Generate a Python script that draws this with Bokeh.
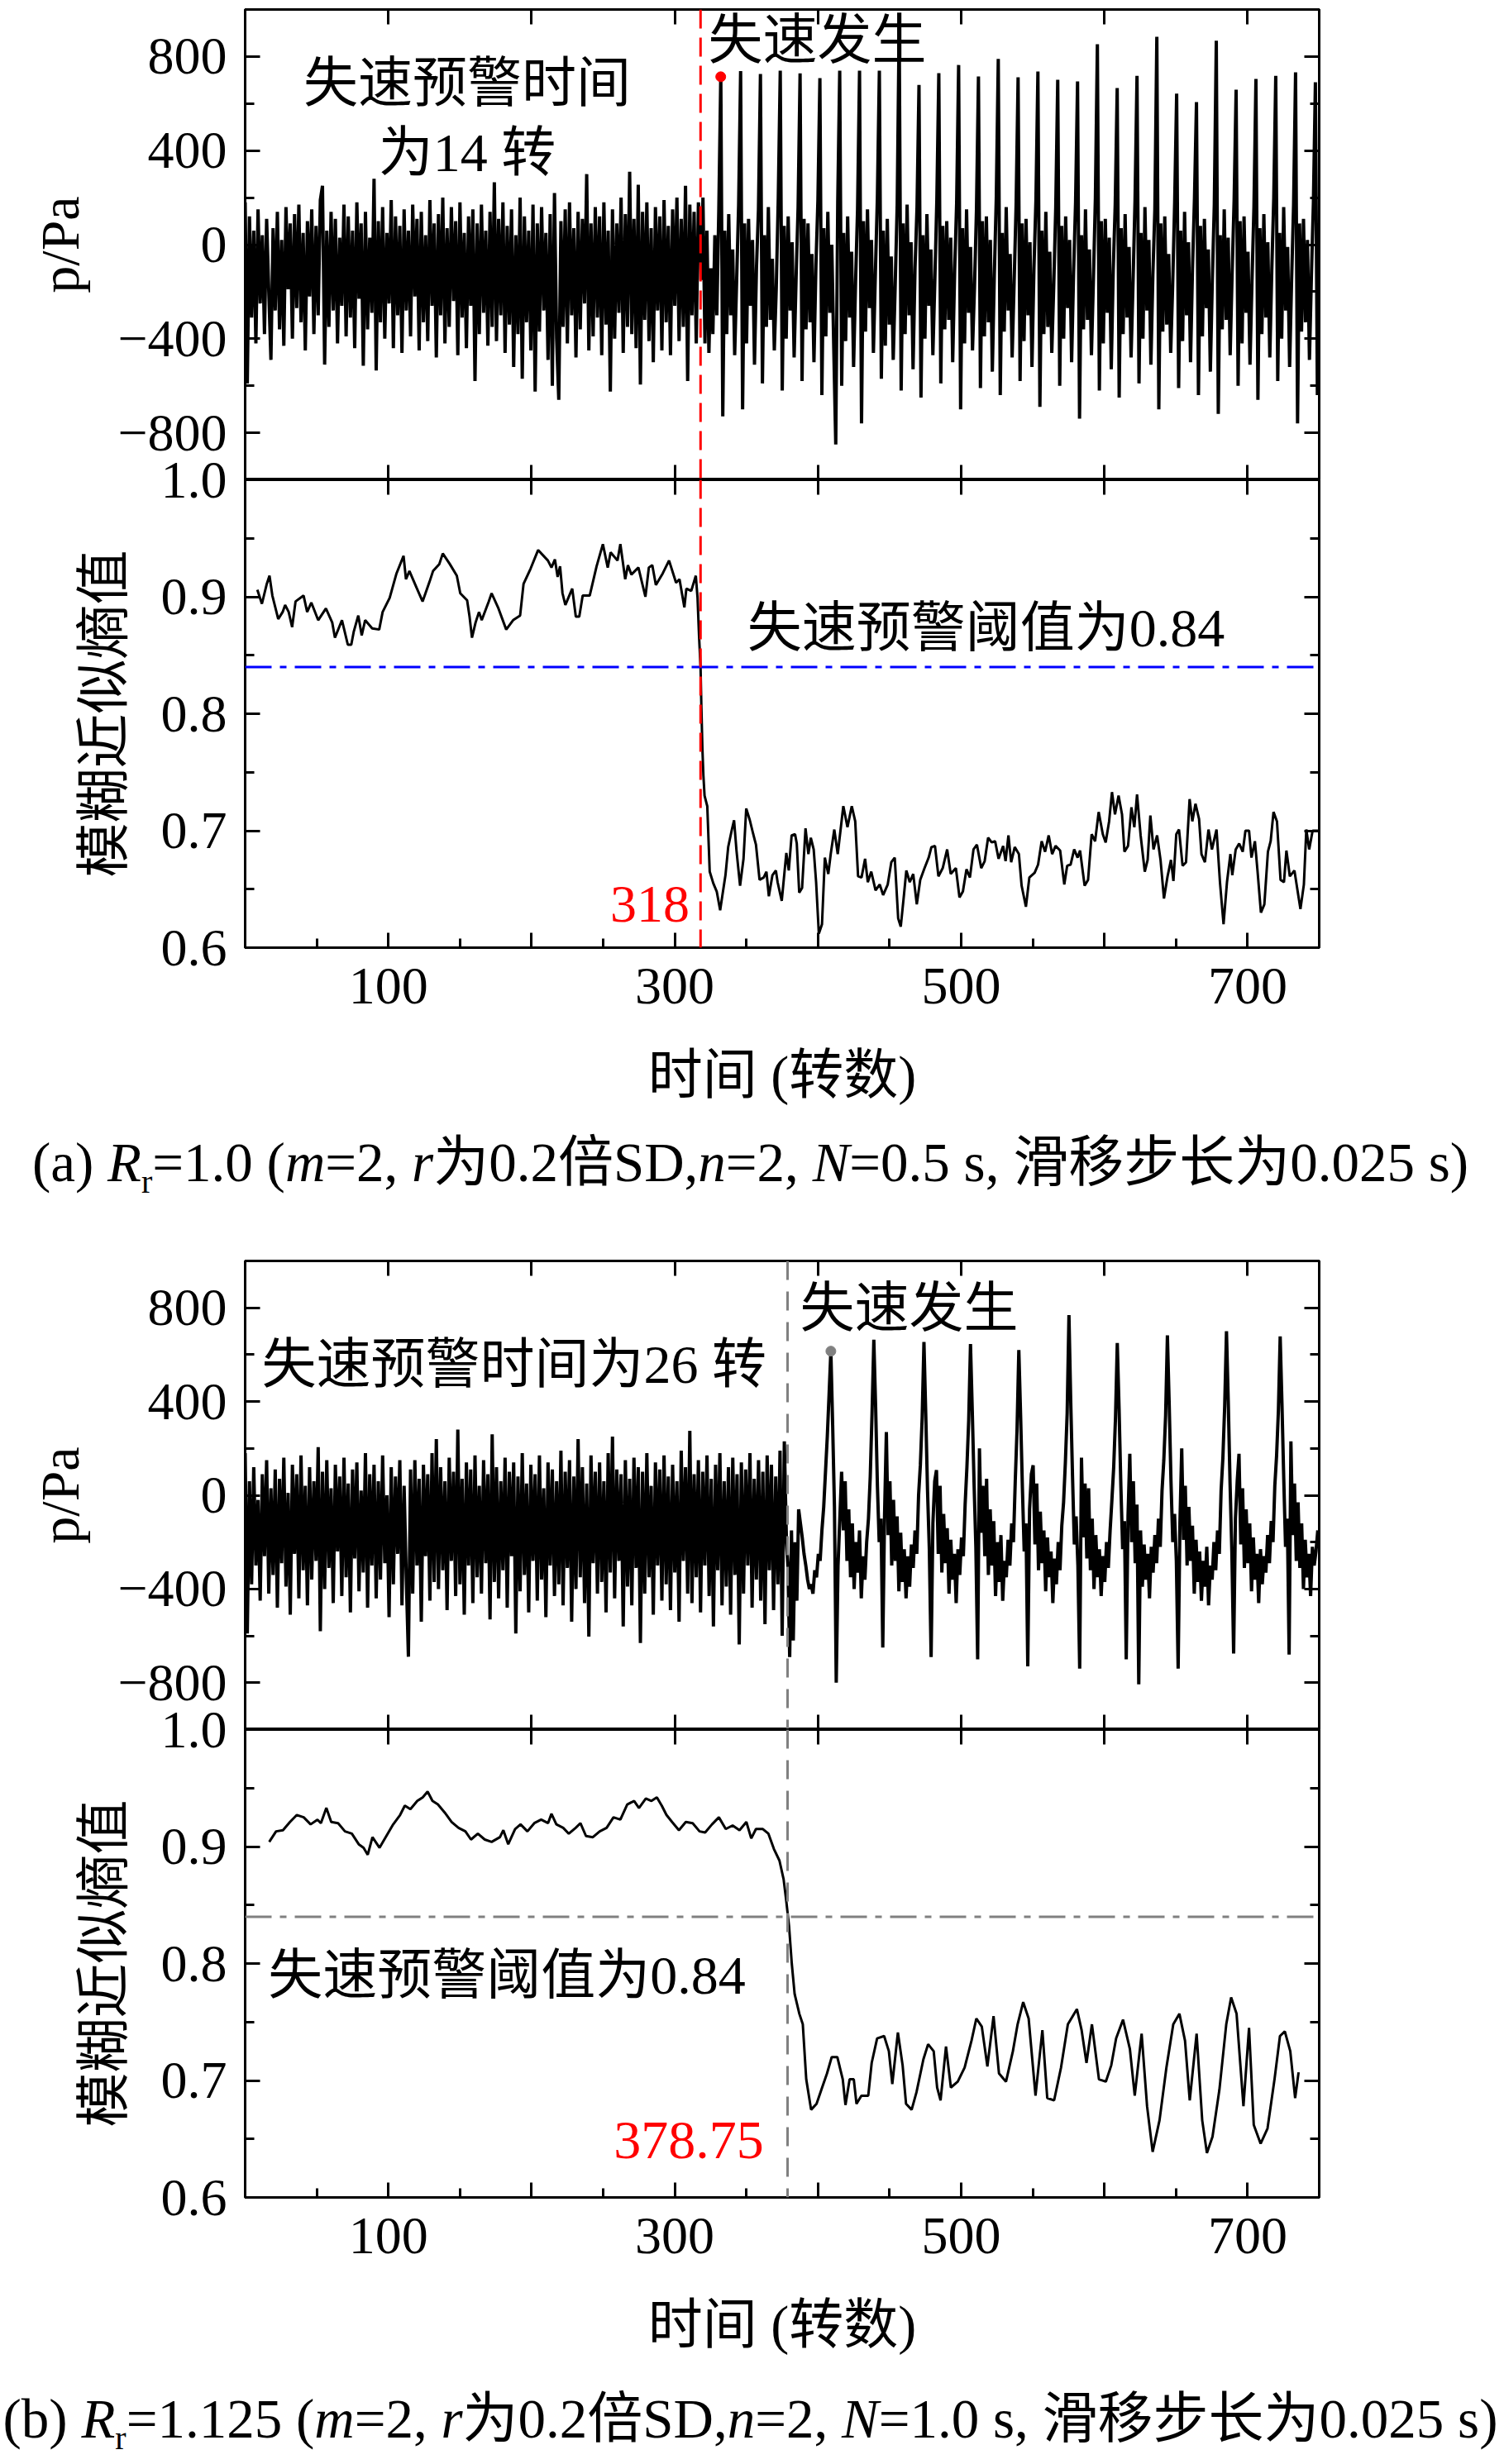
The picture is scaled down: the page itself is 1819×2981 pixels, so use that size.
import numpy as np
from bokeh.plotting import figure
from bokeh.models import (ColumnDataSource, Range1d, LinearAxis, FixedTicker, Span,
                          Label, Div, CustomJSTickFormatter)
from bokeh.layouts import column
from bokeh.embed import file_html
from bokeh.resources import INLINE

FONT = "Liberation Serif, Noto Sans CJK SC"

# ---------------- data (a) R_r = 1.0 ----------------
# pressure before stall, one sample every 1.5 revolutions from 0 to 318
DT_A_PRE = 1.5
p_a_pre = [
    180, -590, 120, -310, 60, -420, 150, -250, 40, -380, 110, -200, -490, 70, -280,
    140, -360, 20, -430, 160, -190, 90, -400, 130, -270, 170, -330, 50, -450, 100,
    -220, 150, -380, 80, -300, 190, 250, -510, 60, -350, 140, -280, 110, -420, 30,
    -260, 170, -390, 120, -310, 60, -440, 180, -230, 90, -515, 140, -360, 30, -290,
    280, -535, 100, -330, 160, -400, 50, -250, 190, -440, 120, -300, 80, -460, 150,
    -280, 60, -390, 170, -220, 110, -450, 140, -330, 40, -410, 190, -260, 90, -480,
    130, -300, 200, -420, 70, -350, 160, -240, 100, -470, 180, -310, 50, -440, 120,
    -260, 150, -580, 90, -380, 170, -290, 60, -430, 140, -350, 265, -410, 110, -300,
    180, -460, 80, -340, 150, -520, 40, -380, 200, -570, 120, -330, 60, -450, 170,
    -625, 90, -370, 160, -280, 50, -490, 130, -600, 220, -400, -660, 100, -350, 150,
    -420, 180, -300, 70, -480, 140, -360, 110, -250, 300, -450, 90, -390, 160, -310,
    120, -470, 180, -340, 60, -625, 150, -400, 90, -290, 200, -460, 130, -350, 310,
    -380, 110, -440, 255, -595, 140, -320, 180, -410, 70, -500, 160, -280, 120, -450,
    190, -330, 80, -470, 150, -260, 200, -410, 110, -350, 250, -580, 170, -300, 140,
    -420, 180, 60,
]
# pressure after stall, from 318.3 revolutions, one sample every 1.384 revolutions
T_A_POST0 = 318.3
DT_A_POST = 1.384
p_a_post = [
    -150, 200, -420, 60, -460, -100, -380, 40, -300, 150,
    725, -730, 60, -380, 130, -300, -20, -470, -150, 170,
    738, -700, 90, -420, 110, -260, 20, -510, -100, 150,
    726, -590, 40, -350, 160, -320, -60, -450, -180, 200,
    740, -620, 80, -400, 120, -280, 10, -480, -140, 160,
    728, -580, 110, -360, 90, -330, -40, -500, -90, 190,
    708, -640, 70, -390, 140, -290, 0, -440, -850, 180,
    740, -600, 50, -410, 120, -310, -30, -520, -160, 150,
    740, -760, 100, -370, 150, -270, 20, -460, -120, 200,
    740, -570, 60, -430, 110, -340, -50, -490, -170, 170,
    940, -620, 90, -380, 170, -300, 10, -530, -100, 160,
    679, -650, 40, -400, 130, -260, -20, -470, -150, 190,
    729, -590, 80, -360, 100, -320, 30, -500, -110, 180,
    764, -700, 70, -420, 150, -290, -10, -450, -180, 150,
    715, -610, 100, -390, 120, -330, 20, -540, -130, 200,
    790, -640, 50, -370, 160, -280, -40, -480, -160, 170,
    712, -580, 90, -410, 110, -300, 10, -520, -100, 190,
    736, -690, 60, -380, 140, -350, -30, -460, -170, 160,
    701, -600, 80, -400, 120, -270, 20, -500, -120, 180,
    694, -740, 40, -360, 150, -320, -20, -470, -150, 200,
    852, -620, 100, -420, 110, -290, 30, -530, -110, 170,
    666, -650, 70, -380, 130, -310, -10, -480, -160, 190,
    718, -590, 50, -400, 160, -280, 20, -510, -130, 150,
    884, -700, 90, -370, 120, -340, -40, -460, -170, 180,
    642, -610, 60, -410, 140, -300, 10, -500, -100, 200,
    606, -640, 80, -390, 110, -270, -20, -540, -150, 170,
    867, -720, 40, -360, 150, -320, 30, -470, -120, 190,
    659, -600, 100, -420, 120, -290, -30, -510, -160, 160,
    705, -660, 70, -380, 130, -310, 10, -480, -110, 200,
    718, -580, 50, -400, 160, -280, -10, -520, -150, 170,
    733, -760, 90, -370, 110, -330, 20, -490, -130, 180,
    691, -640, 60,
]
# fuzzy approximate entropy
ent_a_t = [8.5, 11.7, 15.1, 17.0, 19.0, 23.1, 26.2, 27.9, 30.4, 32.8,
           35.2, 40.8, 43.3, 46.2, 51.0, 56.4, 60.8, 62.7, 67.6, 71.7,
           74.1, 75.8, 79.0, 81.4, 83.8, 88.7, 93.6, 96.0, 100.9, 105.7,
           110.6, 112.3, 114.7, 119.6, 123.9, 128.8, 131.2, 135.6, 138.0, 142.9,
           147.8, 150.2, 155.0, 156.7, 158.4, 160.9, 163.3, 165.2, 170.1, 172.1,
           176.9, 182.3, 187.1, 192.0, 194.4, 199.3, 204.6, 211.4, 213.9, 216.3,
           218.2, 219.9, 221.6, 223.6, 228.4, 230.9, 233.3, 235.7, 240.6, 245.4,
           249.8, 253.2, 255.2, 260.0, 262.0, 265.4, 267.3, 269.7, 274.6, 279.5,
           281.9, 284.3, 286.8, 291.6, 296.0, 300.9, 303.3, 306.7, 308.1, 311.5,
           314.7, 315.9, 317.0, 318.0, 318.6, 319.3, 320.0, 320.8, 322.7, 324.4,
           326.9, 329.3, 331.7, 333.4, 335.4, 337.3, 339.7, 341.4, 343.1, 345.6,
           348.0, 349.9, 352.4, 354.8, 356.7, 359.2, 362.1, 364.0, 365.7, 368.2,
           370.6, 371.8, 374.7, 377.9, 379.6, 381.6, 384.0, 385.2, 386.9, 388.9,
           391.3, 393.3, 395.0, 397.0, 398.7, 400.6, 402.8, 404.8, 407.2, 408.9,
           411.4, 413.8, 417.7, 420.6, 423.6, 426.0, 428.0, 430.4, 432.9, 434.8,
           437.2, 440.2, 443.1, 445.5, 448.7, 451.2, 453.6, 456.0, 457.8, 460.2,
           461.7, 464.1, 466.5, 469.0, 471.4, 474.4, 477.3, 479.2, 481.7, 484.1,
           487.1, 490.2, 492.7, 496.3, 498.8, 501.2, 503.7, 506.1, 508.6, 511.0,
           514.0, 516.4, 518.8, 521.3, 523.7, 526.1, 529.3, 531.0, 533.0, 534.9,
           537.4, 540.3, 542.2, 545.2, 547.6, 551.3, 553.7, 556.2, 558.6, 561.1,
           563.5, 565.9, 569.1, 572.0, 574.0, 576.4, 578.9, 581.3, 583.0, 586.2,
           588.6, 591.1, 593.5, 596.0, 598.9, 600.9, 603.3, 605.3, 607.4, 609.9,
           612.3, 614.0, 616.5, 618.9, 620.9, 622.8, 625.3, 628.2, 630.2, 632.1,
           634.3, 636.8, 639.2, 641.6, 644.1, 646.5, 648.2, 650.2, 652.1, 654.6,
           657.0, 659.5, 661.4, 663.6, 666.1, 667.8, 670.2, 672.7, 675.1, 678.3,
           680.7, 683.2, 685.6, 688.0, 689.3, 691.7, 694.1, 696.6, 698.5, 701.0,
           702.7, 705.1, 706.9, 709.3, 711.7, 714.2, 716.1, 718.1, 720.5, 723.0,
           725.4, 727.1, 729.5, 732.7, 735.1, 736.9, 739.3, 741.0, 743.0, 745.4,
           749.1]
ent_a_v = [0.906, 0.894, 0.911, 0.918, 0.901, 0.881, 0.887, 0.893, 0.887, 0.874,
           0.896, 0.901, 0.887, 0.895, 0.880, 0.890, 0.878, 0.865, 0.880, 0.859,
           0.859, 0.870, 0.884, 0.867, 0.880, 0.873, 0.872, 0.887, 0.899, 0.920,
           0.935, 0.915, 0.922, 0.908, 0.896, 0.913, 0.922, 0.928, 0.937, 0.928,
           0.918, 0.903, 0.897, 0.883, 0.865, 0.878, 0.887, 0.880, 0.896, 0.903,
           0.890, 0.872, 0.880, 0.884, 0.911, 0.924, 0.940, 0.931, 0.925, 0.932,
           0.917, 0.926, 0.903, 0.893, 0.907, 0.883, 0.883, 0.901, 0.901, 0.926,
           0.945, 0.925, 0.938, 0.931, 0.945, 0.915, 0.927, 0.919, 0.925, 0.900,
           0.925, 0.927, 0.910, 0.920, 0.931, 0.912, 0.915, 0.891, 0.907, 0.905,
           0.918, 0.899, 0.865, 0.840, 0.805, 0.770, 0.747, 0.730, 0.721, 0.665,
           0.655, 0.648, 0.632, 0.646, 0.662, 0.686, 0.700, 0.709, 0.683, 0.653,
           0.676, 0.719, 0.709, 0.697, 0.688, 0.658, 0.660, 0.665, 0.644, 0.662,
           0.666, 0.656, 0.640, 0.681, 0.666, 0.696, 0.697, 0.689, 0.647, 0.651,
           0.702, 0.680, 0.694, 0.684, 0.656, 0.612, 0.620, 0.677, 0.663, 0.680,
           0.701, 0.680, 0.721, 0.703, 0.721, 0.708, 0.661, 0.660, 0.676, 0.656,
           0.665, 0.649, 0.654, 0.645, 0.654, 0.673, 0.677, 0.625, 0.618, 0.647,
           0.666, 0.656, 0.663, 0.637, 0.658, 0.668, 0.677, 0.686, 0.687, 0.661,
           0.668, 0.684, 0.663, 0.668, 0.643, 0.648, 0.667, 0.660, 0.684, 0.688,
           0.668, 0.674, 0.694, 0.690, 0.691, 0.676, 0.687, 0.674, 0.696, 0.673,
           0.686, 0.680, 0.653, 0.635, 0.660, 0.664, 0.671, 0.691, 0.682, 0.696,
           0.680, 0.687, 0.683, 0.654, 0.670, 0.671, 0.684, 0.677, 0.683, 0.653,
           0.658, 0.697, 0.691, 0.716, 0.697, 0.690, 0.708, 0.733, 0.714, 0.730,
           0.714, 0.682, 0.687, 0.720, 0.703, 0.731, 0.696, 0.665, 0.675, 0.713,
           0.684, 0.696, 0.675, 0.642, 0.661, 0.675, 0.657, 0.697, 0.701, 0.670,
           0.673, 0.727, 0.708, 0.723, 0.710, 0.680, 0.673, 0.701, 0.684, 0.701,
           0.656, 0.620, 0.656, 0.680, 0.662, 0.684, 0.689, 0.682, 0.700, 0.700,
           0.677, 0.691, 0.666, 0.630, 0.637, 0.682, 0.691, 0.716, 0.708, 0.658,
           0.656, 0.683, 0.661, 0.666, 0.647, 0.633, 0.654, 0.701, 0.684, 0.700,
           0.700]
stall_a_x = [332.1]
stall_a_y = [714]
warn_a = 318
threshold = 0.84

# ---------------- data (b) R_r = 1.125 ----------------
DT_B_PRE = 1.5
p_b_pre = [
    180, -590, 60, -380, 120, -300, -20, -450, 90, -260, 150, -420, 30, -340, 110,
    -480, 70, -290, 160, -390, 10, -510, 130, -250, 90, -440, 170, -320, 40, -470,
    120, -360, 60, -280, 205, -580, 100, -400, 150, -310, 30, -460, 130, -240, 80,
    -430, 160, -350, 50, -500, 110, -270, 140, -410, 20, -330, 180, -480, 90, -300,
    130, -440, 60, -360, 170, -290, 0, -520, 120, -380, 80, -250, 150, -470, 40,
    -350, -689, 110, -420, 150, -300, 70, -540, 130, -260, 90, -450, 180, -370, 240,
    -400, 120, -320, 60, -490, 160, -280, 100, -430, 280, -380, 70, -510, 140, -300,
    110, -460, 170, -350, 40, -420, 150, -290, 90, -530, 260, -370, 120, -440, 60,
    -320, 160, -480, 100, -260, 140, -590, 80, -410, 180, -340, 50, -500, 130, -280,
    90, -450, 170, -360, 30, -520, 140, -300, 110, -430, 60, -380, 190, -470, 100,
    -310, 150, -540, 80, -400, 240, -350, 120, -460, 50, -603, 170, -290, 100, -420,
    140, -370, 60, -500, 180, -330, 250, -440, 110, -280, 90, -560, 150, -390, 70,
    -470, 160, -310, 120, -630, 100, -420, 180, -350, 40, -510, 140, -300, 110, -450,
    170, -380, 80, -490, 130, -330, 60, -540, 190, -280, 120, -420, 275, -460, 90,
    -350, 150, -500, 100, -300, 170, -430, 70, -560, 130, -320, 180, -470, 60, -390,
    120, -510, 160, -340, 90, -637, 140, -420, 110, -300, 180, -480, 70, -360, 150,
    -450, 100, -550, 170, -320, 130, -490, 80, -380, 190, -600, 230, -200,
]
T_B_POST0 = 379.0
DT_B_POST = 1.25
p_b_post = [
    -300, -690, -150, -620, -200, -450, -60, -120, -180, -250, -300, -360,
    -400, -380, -420, -320, -350, -250, -280, -150, -50, 100, 250, 430,
    615, 300, -50, -800, -300, -100, 100, -150, 60, -280, -60, -350,
    -120, -400, -200, -330, -150, -440, -260, -360, -200, -100, 80, 350,
    664, 380, 40, -200, -100, -650, -80, 270, -170, 60, -300, -20, -280, -90,
    -410, -160, -370, -230, -440, -260, -390, -210, -310, -150, -250, 0, 130, 330,
    654, 350, 20, -230, -690, -120, 60, 107, -250, 40, -330, -80, -290,
    -140, -420, -190, -360, -250, -460, -230, -340, -180, -260, -40, 120, 320,
    645, 360, 50, -220, -700, 200, -160, 40, -260, 70, -340, -60, -300, -110,
    -430, -200, -370, -170, -450, -280, -350, -190, -300, -120, -200, 60, 280,
    620, 340, 30, -240, -120, -730, -60, 90, 128, -210, 50, -320, -70, -290,
    -150, -410, -180, -350, -240, -460, -270, -380, -200, -320, -130, -30, 140, 350,
    769, 400, 80, -210, -90, -300, -740, 160, -180, 50, -270, 30, -320, -100,
    -400, -170, -350, -230, -430, -260, -370, -200, -310, -150, -20, 120, 330,
    650, 370, 40, -230, -110, -700, -90, 177, -200, 60, -290, -40, -807, -150,
    -390, -210, -360, -250, -440, -220, -330, -170, -290, -100, -220, 20, 150, 340,
    682, 390, 60, -200, -80, -280, -740, -120, 200, -190, 40, -300, -50, -280, -130, -420, -190,
    -370, -240, -450, -280, -390, -220, -470, -300, -360, -200, -320, -150, -250, 20, 160, 380,
    700, 400, 50, -240, -675, -100, 60, 177, -210, 30, -310, -60, -290, -120, -410,
    -180, -360, -250, -460, -230, -380, -260, -330, -170, -290, -110, -200, 40, 170, 360,
    678, 390, 70, -220, -100, -680, 230, -170, 50, -280, -30,
    -310, -120, -400, -190, -350, -250, -430, -220, -300, -240, -150,
]
ent_b_t = [16.8, 21.6, 26.4, 31.3, 36.1, 40.9, 45.7, 50.5, 52.9, 56.7,
           60.1, 64.9, 69.7, 74.5, 79.3, 82.7, 85.6, 88.9, 93.8, 98.6,
           103.4, 108.2, 111.5, 115.4, 120.2, 124.0, 127.4, 130.8, 134.6, 139.4,
           144.2, 149.0, 153.8, 157.7, 162.5, 167.3, 172.1, 177.9, 180.3, 183.7,
           188.5, 192.3, 197.1, 201.9, 206.7, 211.5, 213.9, 217.3, 222.1, 226.0,
           230.8, 234.1, 238.0, 242.8, 247.6, 252.4, 257.2, 262.0, 266.8, 271.6,
           275.0, 279.8, 283.7, 287.5, 290.9, 294.2, 298.1, 302.9, 307.7, 312.5,
           317.3, 321.2, 326.0, 330.8, 335.6, 340.4, 345.2, 350.0, 353.4, 356.7,
           361.5, 365.4, 369.2, 373.1, 376.0, 377.9, 379.8, 381.7, 383.7, 387.0,
           389.4, 391.8, 395.2, 399.0, 402.9, 406.3, 409.6, 413.5, 417.3, 419.2,
           422.1, 425.0, 426.9, 430.3, 435.1, 437.5, 441.3, 446.2, 449.5, 451.9,
           455.8, 459.1, 461.5, 465.4, 468.8, 473.6, 476.9, 480.8, 483.2, 485.6,
           489.4, 492.8, 497.6, 502.4, 507.2, 510.6, 514.4, 518.3, 522.6, 526.4,
           531.3, 536.1, 539.4, 543.3, 547.1, 551.9, 556.7, 560.1, 564.9, 569.7,
           574.5, 580.8, 584.1, 587.5, 591.3, 596.2, 601.0, 604.8, 608.2, 613.0,
           617.8, 621.2, 626.0, 629.8, 633.7, 638.5, 643.3, 648.1, 652.4, 656.3,
           659.6, 664.4, 668.3, 671.6, 675.5, 680.3, 685.1, 688.5, 692.3, 697.1,
           701.0, 704.3, 709.1, 713.9, 718.8, 722.6, 726.0, 729.8, 733.2, 735.6]
ent_b_v = [0.904, 0.913, 0.914, 0.921, 0.927, 0.925, 0.919, 0.923, 0.920, 0.933,
           0.921, 0.920, 0.913, 0.911, 0.902, 0.899, 0.893, 0.908, 0.899, 0.909,
           0.919, 0.927, 0.935, 0.932, 0.939, 0.942, 0.947, 0.939, 0.936, 0.929,
           0.921, 0.916, 0.913, 0.906, 0.911, 0.906, 0.904, 0.908, 0.914, 0.902,
           0.915, 0.919, 0.913, 0.920, 0.923, 0.920, 0.928, 0.919, 0.916, 0.911,
           0.916, 0.920, 0.909, 0.908, 0.913, 0.916, 0.925, 0.923, 0.936, 0.939,
           0.933, 0.941, 0.939, 0.942, 0.935, 0.927, 0.921, 0.914, 0.921, 0.920,
           0.913, 0.912, 0.919, 0.925, 0.915, 0.918, 0.914, 0.921, 0.907, 0.915,
           0.915, 0.911, 0.898, 0.888, 0.872, 0.853, 0.832, 0.800, 0.774, 0.757,
           0.748, 0.701, 0.675, 0.680, 0.694, 0.706, 0.720, 0.720, 0.701, 0.679,
           0.701, 0.701, 0.680, 0.687, 0.687, 0.715, 0.736, 0.738, 0.725, 0.697,
           0.741, 0.713, 0.680, 0.675, 0.690, 0.718, 0.731, 0.725, 0.694, 0.683,
           0.729, 0.694, 0.699, 0.711, 0.734, 0.753, 0.746, 0.712, 0.755, 0.706,
           0.699, 0.725, 0.748, 0.767, 0.753, 0.687, 0.743, 0.685, 0.683, 0.711,
           0.748, 0.761, 0.743, 0.715, 0.748, 0.701, 0.699, 0.713, 0.736, 0.752,
           0.727, 0.687, 0.740, 0.678, 0.639, 0.666, 0.711, 0.748, 0.757, 0.734,
           0.683, 0.740, 0.666, 0.638, 0.652, 0.692, 0.748, 0.771, 0.757, 0.678,
           0.745, 0.662, 0.646, 0.659, 0.701, 0.738, 0.742, 0.725, 0.685, 0.707]
stall_b_x = [409]
stall_b_y = [615]
warn_b = 378.75

x_major = [100, 200, 300, 400, 500, 600, 700]
x_minor = [50, 150, 250, 350, 450, 550, 650]
p_major = [-800, -400, 0, 400, 800]
p_minor = [-600, -200, 200, 600]
e_major = [0.6, 0.7, 0.8, 0.9, 1.0]
e_minor = [0.65, 0.75, 0.85, 0.95]

minus_fmt = CustomJSTickFormatter(code="return tick < 0 ? '\u2212' + Math.abs(tick) : String(tick);")
ent_fmt = CustomJSTickFormatter(code="return tick.toFixed(1);")
x_fmt = CustomJSTickFormatter(code="const t = Math.round(tick); return (t % 200 == 100) ? String(t) : '';")
blank_fmt = CustomJSTickFormatter(code="return '';")


def make_panel(y_lo, y_hi, height, top, bottom, margin=None):
    kw = {}
    if margin is not None:
        kw["margin"] = margin
    p = figure(width=1800, height=height, x_range=Range1d(0, 750), y_range=Range1d(y_lo, y_hi),
               output_backend="svg", toolbar_location=None, tools="",
               x_axis_location=None, y_axis_location=None,
               min_border_left=296, min_border_right=205,
               min_border_top=top, min_border_bottom=bottom, **kw)
    p.grid.visible = False
    p.outline_line_color = "black"
    p.outline_line_width = 3
    p.outline_line_alpha = 1
    p.border_fill_alpha = 0
    return p


def add_axis(p, side, ticks, minor=(), fmt=None, label=None, standoff=22, label_standoff=30):
    ax = LinearAxis(ticker=FixedTicker(ticks=list(ticks), minor_ticks=list(minor)))
    ax.axis_line_width = 3
    ax.major_tick_in = 18
    ax.major_tick_out = 0
    ax.minor_tick_in = 11
    ax.minor_tick_out = 0
    ax.major_tick_line_width = 3
    ax.minor_tick_line_width = 3
    if fmt is None:
        ax.formatter = blank_fmt
        ax.major_label_text_font_size = "0px"
        ax.major_label_standoff = 0
    else:
        ax.formatter = fmt
        ax.major_label_text_font = FONT
        ax.major_label_text_font_size = "64px"
        ax.major_label_text_color = "black"
        ax.major_label_standoff = standoff
    if label is not None:
        ax.axis_label = label
        ax.axis_label_text_font = FONT
        ax.axis_label_text_font_size = "66px"
        ax.axis_label_text_font_style = "normal"
        ax.axis_label_text_color = "black"
        ax.axis_label_standoff = label_standoff
    p.add_layout(ax, side)
    return ax


def note(p, x, y, text, align="left", color="black", size="66px"):
    p.add_layout(Label(x=x, y=y, text=text, text_align=align, text_baseline="middle",
                       text_font=FONT, text_font_size=size, text_color=color))


def pressure_panel(t, p_vals, height, top, warn, warn_color, warn_dash, dot_x, dot_y, dot_color):
    f = make_panel(-1000, 1000, height, top, 0)
    add_axis(f, "left", p_major, p_minor, minus_fmt, label="p/Pa")
    add_axis(f, "right", p_major, p_minor)
    add_axis(f, "above", x_major)
    add_axis(f, "below", x_major)
    src = ColumnDataSource(data=dict(t=t, p=p_vals))
    f.line("t", "p", source=src, line_color="black", line_width=4)
    f.add_layout(Span(location=warn, dimension="height", line_color=warn_color,
                      line_dash=warn_dash, line_width=3))
    f.scatter(dot_x, dot_y, size=12, color=dot_color)
    return f


def entropy_panel(t, e_vals, warn, warn_color, warn_dash, thr_color):
    f = make_panel(0.6, 1.0, 806, 40, 200, margin=(-40, 0, 0, 0))
    add_axis(f, "left", e_major, e_minor, ent_fmt, label="模糊近似熵值")
    add_axis(f, "right", e_major, e_minor)
    add_axis(f, "above", x_major)
    add_axis(f, "below", x_major, x_minor, x_fmt, label="时间 (转数)",
             standoff=25, label_standoff=47)
    src = ColumnDataSource(data=dict(t=t, e=e_vals))
    f.line("t", "e", source=src, line_color="black", line_width=3)
    f.add_layout(Span(location=threshold, dimension="width", line_color=thr_color,
                      line_dash="32 10 8 10", line_width=3))
    f.add_layout(Span(location=warn, dimension="height", line_color=warn_color,
                      line_dash=warn_dash, line_width=3))
    return f


t_a = [i * DT_A_PRE for i in range(len(p_a_pre))] + \
      [T_A_POST0 + i * DT_A_POST for i in range(len(p_a_post))]
t_b = [i * DT_B_PRE for i in range(len(p_b_pre))] + \
      [T_B_POST0 + i * DT_B_POST for i in range(len(p_b_post))]

# (a)
a1 = pressure_panel(t_a, p_a_pre + p_a_post, 580, 11, warn_a, "#ff0000", "23 11",
                    stall_a_x, stall_a_y, "#ff0000")
note(a1, 155, 687, "失速预警时间", align="center")
note(a1, 155, 392, "为14 转", align="center")
note(a1, 323.3, 870, "失速发生")

a2 = entropy_panel(ent_a_t, ent_a_v, warn_a, "#ff0000", "23 11", "#0000ff")
note(a2, 350.6, 0.8735, "失速预警阈值为0.84")
note(a2, 310.3, 0.637, str(warn_a), align="right", color="#ff0000", size="64px")

cap_style = ("font-family: 'Liberation Serif', 'Noto Sans CJK SC'; font-size: 67px; "
             "line-height: 74px; text-align: center; white-space: nowrap; width: 1815px;")
cap_a = Div(width=1815, height=120, margin=(0, 0, 0, 0),
            text=f"<div style=\"{cap_style} padding-top: 23px;\">(a) <i>R</i><sub style='font-size:40px'>r</sub>=1.0 "
                 "(<i>m</i>=2, <i>r</i>为0.2倍SD,<i>n</i>=2, <i>N</i>=0.5 s, 滑移步长为0.025 s)</div>")

# (b)
b1 = pressure_panel(t_b, p_b_pre + p_b_post, 626, 59, warn_b, "#808080", "23 14",
                    stall_b_x, stall_b_y, "#808080")
note(b1, 11.5, 558, "失速预警时间为26 转")
note(b1, 387.4, 798, "失速发生")

b2 = entropy_panel(ent_b_t, ent_b_v, warn_b, "#808080", "23 14", "#808080")
note(b2, 16.0, 0.790, "失速预警阈值为0.84")
note(b2, 362.1, 0.649, "378.75", align="right", color="#ff0000")

cap_b = Div(width=1815, height=105, margin=(0, 0, 0, 0),
            text=f"<div style=\"{cap_style} padding-top: 31px;\">(b) <i>R</i><sub style='font-size:40px'>r</sub>=1.125 "
                 "(<i>m</i>=2, <i>r</i>为0.2倍SD,<i>n</i>=2, <i>N</i>=1.0 s, 滑移步长为0.025 s)</div>")

layout = column(a1, a2, cap_a, b1, b2, cap_b)

with open("out.html", "w", encoding="utf-8") as fh:
    fh.write(file_html(layout, INLINE, title="stall warning"))
